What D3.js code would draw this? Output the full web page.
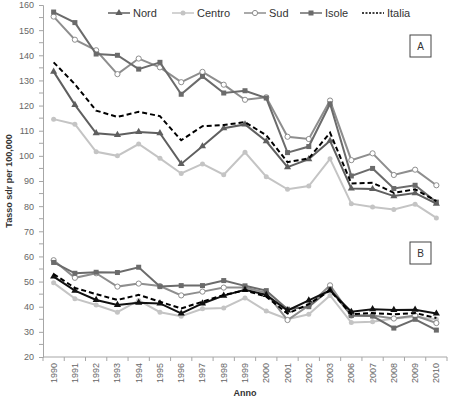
<!doctype html>
<html>
<head>
<meta charset="utf-8">
<script src="https://d3js.org/d3.v7.min.js"></script>
<style>
  body { margin: 0; background: #fff; }
  text { font-family: "Liberation Sans", Arial, sans-serif; }
  .line { fill: none; stroke-width: 2px; }
</style>
</head>
<body>
<div id="chart"></div>
<script>
// categories
var years = ["1990","1991","1992","1993","1994","1995","1996","1997","1998","1999","2000","2001","2002","2003","2006","2007","2008","2009","2010"];

// panel A
var nordA   = [133.5,120.3,109,108.3,109.5,109,96.8,103.8,111,112.5,105.8,95.5,98.7,106,87,86.8,84,85.2,81];
var centroA = [114.6,112.6,101.6,100,104.7,99,93,96.8,92.5,101.4,91.7,86.7,88,98.8,81,79.7,78.7,80.8,75.3];
var sudA    = [155.4,146.2,142,132.5,138.7,135.2,129.3,133.4,128.3,122.3,123.3,107.6,106.7,122,98.3,101,92.4,94.5,88.3];
var isoleA  = [157.2,153,140.5,140,134.5,137.2,124.5,131.6,125,125.9,123,101.3,103.7,120.7,92,95,87,88.3,81.6];
var italiaA = [137.2,128.5,118,115.5,117.5,115.8,106.2,111.8,112.3,113.4,108.2,97.5,99,109.2,89,89.3,85.3,86.7,82];

// panel B
var nordB   = [52,46.4,42.7,40.7,41.6,41.3,37.3,41.3,44.4,46.7,44.7,38.5,42.5,46.5,38,39,38.7,38.8,37.3];
var centroB = [49.5,43.2,40.7,37.8,42.5,37.8,36.2,39.2,39.5,43.5,38.3,35,37,44.5,33.7,34,35.3,36,35];
var sudB    = [58.5,51.5,53.3,48,49.2,48.2,44.5,46,47.6,47.6,45.5,34.7,40.5,48.5,36.5,36.5,35.3,36.5,33.5];
var isoleB  = [57.6,53.3,53.7,53.6,55.7,48,48.4,48.4,50.4,48.3,46.4,39,40,47,36.5,36.3,31.5,35,30.7];
var italiaB = [53,47.5,45,42.7,44.7,42,39.3,42,44.7,46.5,44,37.3,41,46.5,37,37.5,37,37.5,35.5];

var legendNames = ["Nord","Centro","Sud","Isole","Italia"];

var width = 452, height = 399;
var svg = d3.select("#chart").append("svg")
    .attr("width", width)
    .attr("height", height);

var x = d3.scaleBand().domain(years).range([43, 447]);
var y = d3.scaleLinear().domain([20, 160]).range([357, 5]);
var cx = function(i) { return x(years[i]) + x.bandwidth() / 2; };

var axisColor = "#a6a6a6";

// Y axis
var yAxis = svg.append("g").attr("transform", "translate(43,0)")
    .call(d3.axisLeft(y).tickValues(d3.range(20, 161, 10)).tickSize(4).tickFormat(d3.format("d")));
yAxis.select(".domain").attr("stroke", axisColor);
yAxis.selectAll(".tick line").attr("stroke", axisColor);
yAxis.selectAll(".tick text").attr("fill", "#666").style("font-size", "9px").attr("x", -9);
// minor ticks
svg.append("g").selectAll("line").data(d3.range(25, 160, 10)).join("line")
    .attr("x1", 39).attr("x2", 43)
    .attr("y1", function(d) { return y(d); }).attr("y2", function(d) { return y(d); })
    .attr("stroke", axisColor);

// X axis
var xg = svg.append("g");
xg.append("line").attr("x1", 43).attr("x2", 447).attr("y1", 357).attr("y2", 357).attr("stroke", axisColor);
xg.selectAll(".xt").data(years.concat(["end"])).join("line")
    .attr("class", "xt")
    .attr("x1", function(d, i) { return 43 + i * x.bandwidth(); })
    .attr("x2", function(d, i) { return 43 + i * x.bandwidth(); })
    .attr("y1", 357).attr("y2", 361)
    .attr("stroke", axisColor);
xg.selectAll(".xl").data(years).join("text")
    .attr("class", "xl")
    .attr("transform", function(d, i) { return "translate(" + (cx(i) + 3) + ",363) rotate(-90)"; })
    .attr("text-anchor", "end")
    .attr("fill", "#666")
    .style("font-size", "9px")
    .text(function(d) { return d; });

svg.append("text")
    .attr("x", 245).attr("y", 396)
    .attr("text-anchor", "middle")
    .style("font-size", "9px").style("font-weight", "bold").attr("fill", "#333")
    .text("Anno");

svg.append("text")
    .attr("transform", "translate(12,181) rotate(-90)")
    .attr("text-anchor", "middle")
    .style("font-size", "9px").style("font-weight", "bold").attr("fill", "#333")
    .text("Tasso sdr per 100,000");

// series styles
var styles = {
  Nord:   { color: "#5f5f5f", marker: "tri" },
  Centro: { color: "#c4c4c4", marker: "dot" },
  Sud:    { color: "#8e8e8e", marker: "circle" },
  Isole:  { color: "#6b6b6b", marker: "square" },
  Italia: { color: "#000", marker: "none", dash: "5,3" }
};

var line = d3.line().x(function(d, i) { return cx(i); }).y(function(d) { return y(d); });

function drawMarker(g, type, color, px, py) {
  if (type === "tri") {
    g.append("path").attr("d", d3.symbol().type(d3.symbolTriangle).size(22)())
      .attr("transform", "translate(" + px + "," + py + ")").attr("fill", color);
  } else if (type === "dot") {
    g.append("circle").attr("cx", px).attr("cy", py).attr("r", 2.5).attr("fill", color);
  } else if (type === "circle") {
    g.append("circle").attr("cx", px).attr("cy", py).attr("r", 2.6).attr("fill", "#fff").attr("stroke", color).attr("stroke-width", 1);
  } else if (type === "square") {
    g.append("rect").attr("x", px - 2.5).attr("y", py - 2.5).attr("width", 5).attr("height", 5).attr("fill", color);
  }
}

function drawSeries(values, name, colorOverride) {
  var s = styles[name];
  var color = colorOverride || s.color;
  var g = svg.append("g");
  g.append("path").datum(values).attr("class", "line")
    .attr("stroke", color)
    .attr("stroke-dasharray", s.dash || null)
    .attr("d", line);
  values.forEach(function(v, i) { drawMarker(g, s.marker, color, cx(i), y(v)); });
}

// panel A
drawSeries(centroA, "Centro");
drawSeries(sudA, "Sud");
drawSeries(isoleA, "Isole");
drawSeries(nordA, "Nord");
drawSeries(italiaA, "Italia");

// panel B
drawSeries(centroB, "Centro");
drawSeries(sudB, "Sud");
drawSeries(isoleB, "Isole");
drawSeries(nordB, "Nord", "#111");
drawSeries(italiaB, "Italia");

// panel boxes
[["A", 35], ["B", 242]].forEach(function(b) {
  svg.append("rect").attr("x", 410).attr("y", b[1]).attr("width", 21).attr("height", 22)
    .attr("fill", "#fff").attr("stroke", "#444").attr("stroke-width", 1);
  svg.append("text").attr("x", 420.5).attr("y", b[1] + 15).attr("text-anchor", "middle")
    .style("font-size", "10px").attr("fill", "#333").text(b[0]);
});

// legend
var legendX = [108, 172, 244, 300, 362];
legendNames.forEach(function(name, i) {
  var s = styles[name];
  var g = svg.append("g");
  var x0 = legendX[i];
  g.append("line").attr("x1", x0).attr("x2", x0 + 22).attr("y1", 13).attr("y2", 13)
    .attr("stroke", s.color).attr("stroke-width", name === "Italia" ? 1.5 : 1.5)
    .attr("stroke-dasharray", name === "Italia" ? "2,1.5" : null);
  drawMarker(g, s.marker, s.color, x0 + 11, 13);
  g.append("text").attr("x", x0 + 25).attr("y", 17)
    .style("font-size", "11px").attr("fill", "#333").text(name);
});
</script>
</body>
</html>
